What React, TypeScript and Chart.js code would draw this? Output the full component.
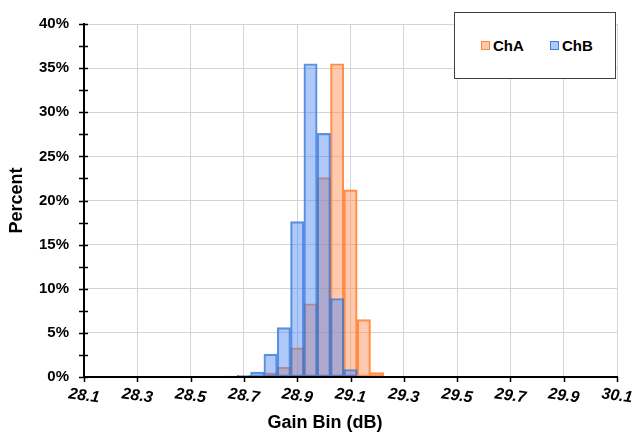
import { useEffect, useRef } from "react";
import { Chart, registerables } from "chart.js";

Chart.register(...registerables);

const bins = [28.4, 28.45, 28.5, 28.55, 28.6, 28.65, 28.7, 28.75, 28.8, 28.85, 28.9, 28.95, 29.0, 29.05, 29.1, 29.15, 29.2, 29.25];
const chA = [0, 0, 0.05, 0, 0, 0, 0, 0, 0.47, 1.1, 3.3, 8.3, 22.6, 35.5, 21.2, 6.5, 0.5, 0.05];
const chB = [0.05, 0, 0, 0, 0, 0.1, 0.2, 0.55, 2.6, 5.6, 17.6, 35.5, 27.6, 8.9, 0.85, 0, 0, 0];
const xTicks = [28.1, 28.3, 28.5, 28.7, 28.9, 29.1, 29.3, 29.5, 29.7, 29.9, 30.1];
const yTicks = [0, 5, 10, 15, 20, 25, 30, 35, 40];
const yMinorTicks = [2.5, 7.5, 12.5, 17.5, 22.5, 27.5, 32.5, 37.5];
const seriesNames = ["ChA", "ChB"];

const FONT = '"Liberation Sans", Arial, sans-serif';
const A_FILL = "rgba(255,147,93,0.5)";
const A_BORDER = "rgba(255,122,40,0.85)";
const B_FILL = "rgba(77,133,244,0.45)";
const B_BORDER = "rgba(50,120,215,0.8)";

const decor = {
  id: "decor",
  afterDraw(chart: any) {
    const { ctx, chartArea, scales } = chart;
    const x = scales.x;
    const y = scales.y;
    ctx.save();
    ctx.strokeStyle = "#000";
    ctx.lineWidth = 1.5;
    ctx.beginPath();
    [...yTicks, ...yMinorTicks].forEach((v) => {
      const py = Math.round(y.getPixelForValue(v)) + 0.5;
      ctx.moveTo(chartArea.left - 5, py);
      ctx.lineTo(chartArea.left + 4, py);
    });
    xTicks.forEach((v) => {
      const px = Math.round(x.getPixelForValue(v)) + 0.5;
      ctx.moveTo(px, chartArea.bottom);
      ctx.lineTo(px, chartArea.bottom + 5);
    });
    ctx.stroke();

    ctx.fillStyle = "#000";
    ctx.font = `italic bold 16px ${FONT}`;
    ctx.textAlign = "center";
    ctx.textBaseline = "middle";
    xTicks.forEach((v) => {
      const px = x.getPixelForValue(v);
      ctx.save();
      ctx.translate(px, chartArea.bottom + 19);
      ctx.rotate((8 * Math.PI) / 180);
      ctx.fillText(v.toFixed(1), 0, 0);
      ctx.restore();
    });

    ctx.font = `bold 18px ${FONT}`;
    ctx.fillText("Gain Bin (dB)", 325, chartArea.bottom + 46);
    ctx.save();
    ctx.translate(17, (chartArea.top + chartArea.bottom) / 2);
    ctx.rotate(-Math.PI / 2);
    ctx.fillText("Percent", 0, 0);
    ctx.restore();
    ctx.restore();
  },
};

export default function App() {
  const ref = useRef<HTMLCanvasElement>(null);
  useEffect(() => {
    if (!ref.current) return;
    const chart = new Chart(ref.current, {
      type: "bar",
      data: {
        datasets: [
          {
            label: seriesNames[0],
            data: bins.map((b, i) => ({ x: b, y: chA[i] || null })) as any,
            backgroundColor: A_FILL,
            borderColor: A_BORDER,
            borderWidth: 1.5,
            borderSkipped: false,
            grouped: false,
            order: 1,
            barPercentage: 1,
            categoryPercentage: 1,
          },
          {
            label: seriesNames[1],
            data: bins.map((b, i) => ({ x: b, y: chB[i] || null })) as any,
            backgroundColor: B_FILL,
            borderColor: B_BORDER,
            borderWidth: 1.5,
            borderSkipped: false,
            grouped: false,
            order: 0,
            barPercentage: 1,
            categoryPercentage: 1,
          },
        ],
      },
      options: {
        responsive: false,
        animation: false,
        layout: { padding: { left: 0, top: 12, right: 27, bottom: 0 } },
        plugins: { legend: { display: false }, tooltip: { enabled: false } },
        scales: {
          x: {
            type: "linear",
            min: 28.1,
            max: 30.1,
            offset: false,
            grid: { offset: false, color: "#d4d4d4", lineWidth: 1, drawTicks: false },
            border: { color: "#000", width: 2, z: 1 },
            ticks: { display: false },
            afterBuildTicks: (s: any) => {
              s.ticks = xTicks.map((v) => ({ value: v }));
            },
            afterFit: (s: any) => {
              s.height = 63;
            },
          },
          y: {
            min: 0,
            max: 40,
            grid: { color: "#d4d4d4", lineWidth: 1, drawTicks: false },
            border: { color: "#000", width: 2, z: 1 },
            afterBuildTicks: (s: any) => {
              s.ticks = yTicks.map((v) => ({ value: v }));
            },
            ticks: {
              padding: 15,
              color: "#000",
              font: { family: FONT, size: 15, weight: "bold" },
              callback: (v: any) => `${v}%`,
            },
            afterFit: (s: any) => {
              s.width = 84;
            },
          },
        },
      },
      plugins: [decor],
    });
    return () => chart.destroy();
  }, []);

  const legendText: any = {
    position: "absolute",
    top: 22,
    fontFamily: FONT,
    fontWeight: "bold",
    fontSize: 15,
    lineHeight: "22px",
    color: "#000",
  };
  const sq = (fill: string, border: string, left: number): any => ({
    position: "absolute",
    left,
    top: 28,
    width: 9,
    height: 9,
    boxSizing: "border-box",
    background: fill,
    border: `1.5px solid ${border}`,
  });

  return (
    <div style={{ position: "fixed", left: 0, top: 0, width: 644, height: 440, background: "#fff" }}>
      <canvas ref={ref} width={644} height={440} style={{ display: "block" }} />
      <div
        style={{
          position: "absolute",
          left: 454,
          top: 12,
          width: 162,
          height: 67,
          boxSizing: "border-box",
          border: "1.5px solid #404040",
          background: "#fff",
        }}
      >
        <div style={sq("#FFC8A8", "#F58A48", 26)} />
        <div style={{ ...legendText, left: 38 }}>{seriesNames[0]}</div>
        <div style={sq("#AEC8F8", "#3F7FD8", 95)} />
        <div style={{ ...legendText, left: 107 }}>{seriesNames[1]}</div>
      </div>
    </div>
  );
}
